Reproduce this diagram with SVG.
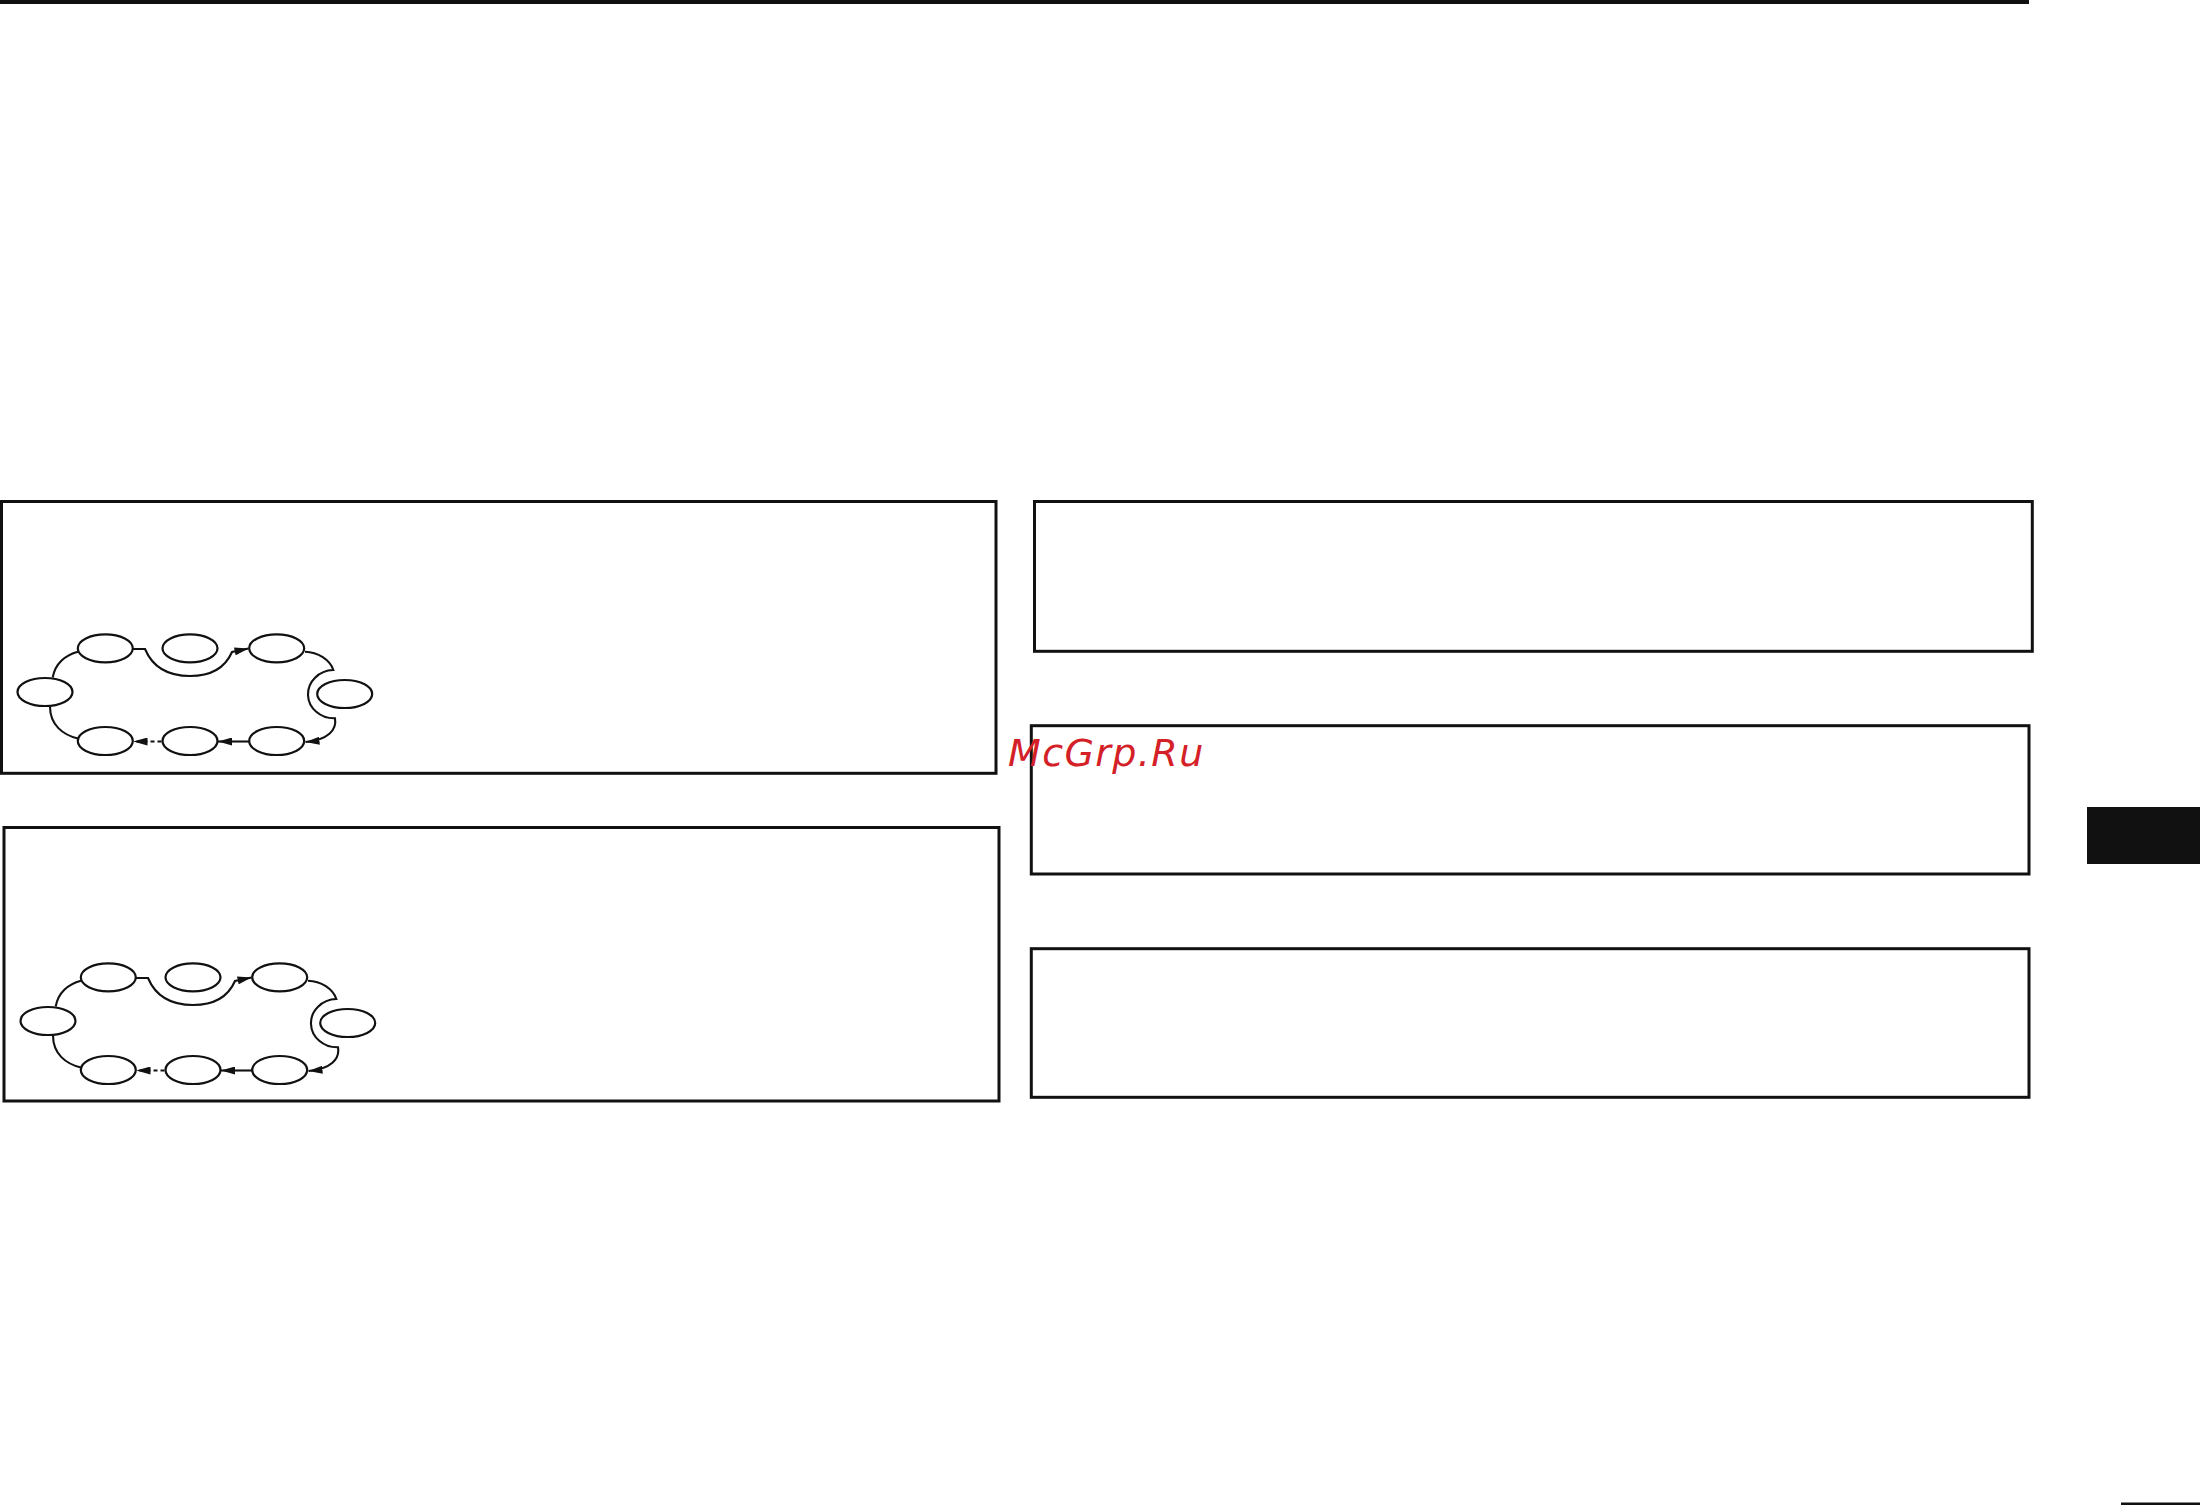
<svg xmlns="http://www.w3.org/2000/svg" width="2200" height="1505" viewBox="0 0 2200 1505">
<style>
.box{fill:none;stroke:#111;stroke-width:3}
.node{fill:#fff;stroke:#111;stroke-width:2.2}
.conn{fill:none;stroke:#111;stroke-width:2.1}
.dash{stroke-dasharray:4 3}
.solid{fill:#111}
.wm{font-family:"DejaVu Sans",sans-serif;font-style:italic;font-size:38px;fill:#d42027;letter-spacing:1.4px}
</style>
<defs>
<marker id="arr" markerUnits="userSpaceOnUse" markerWidth="14" markerHeight="8" viewBox="0 0 14 8" refX="14" refY="4" orient="auto">
<path d="M0,0 L14,4 L0,8 Z" fill="#111"/>
</marker>
<g id="cycle">
<g id="connectors">
<path class="conn" d="M133,649 H145 C153,668 168,676 190,676 C210,676 225,668 232,652 L248.5,648.5" marker-end="url(#arr)"/>
<path class="conn" d="M305,651.7 C318,652 330,660 333.3,670 A26,24 0 0 0 335,718.3 C337,730 328,740 305.5,742" marker-end="url(#arr)"/>
<path class="conn" d="M249,741.5 L218,741.5" marker-end="url(#arr)"/>
<path class="conn dash" d="M161.5,741.5 L133.5,741.5" marker-end="url(#arr)"/>
<path class="conn" d="M50,706.5 C50,725 63,735 78,738.5"/>
<path class="conn" d="M52.7,677.5 C55,664 65,655 78,651.7"/>
</g>
<g id="nodes">
<g id="n1"><ellipse class="node" cx="105.3" cy="648.3" rx="27.5" ry="14"/></g>
<g id="n2"><ellipse class="node" cx="190" cy="648.3" rx="27.5" ry="14"/></g>
<g id="n3"><ellipse class="node" cx="276.7" cy="648.3" rx="27.5" ry="14"/></g>
<g id="n4"><ellipse class="node" cx="344.7" cy="694" rx="27.5" ry="14"/></g>
<g id="n5"><ellipse class="node" cx="276.7" cy="741" rx="27.5" ry="14"/></g>
<g id="n6"><ellipse class="node" cx="190" cy="741" rx="27.5" ry="14"/></g>
<g id="n7"><ellipse class="node" cx="105.3" cy="741" rx="27.5" ry="14"/></g>
<g id="n8"><ellipse class="node" cx="45" cy="692" rx="27.5" ry="14"/></g>
</g>
</g>
</defs>
<rect width="2200" height="1505" fill="#fff"/>
<rect class="solid" x="0" y="0" width="2029" height="4"/>
<rect class="solid" x="2087" y="807" width="113" height="57"/>
<rect class="solid" x="2121" y="1502.5" width="79" height="2.5"/>
<g id="panel1">
<rect class="box" x="1.5" y="501.5" width="994.5" height="271.8"/>
<use href="#cycle"/>
</g>
<g id="panel2">
<rect class="box" x="4" y="827.5" width="995" height="273.5"/>
<use href="#cycle" transform="translate(3,329)"/>
</g>
<g id="panel3"><rect class="box" x="1034.5" y="501.5" width="997.8" height="149.8"/></g>
<g id="panel4"><rect class="box" x="1031.3" y="725.7" width="997.7" height="148.3"/></g>
<g id="panel5"><rect class="box" x="1031.3" y="948.7" width="997.7" height="148.6"/></g>
<text class="wm" x="1008" y="766">McGrp.Ru</text>
</svg>
